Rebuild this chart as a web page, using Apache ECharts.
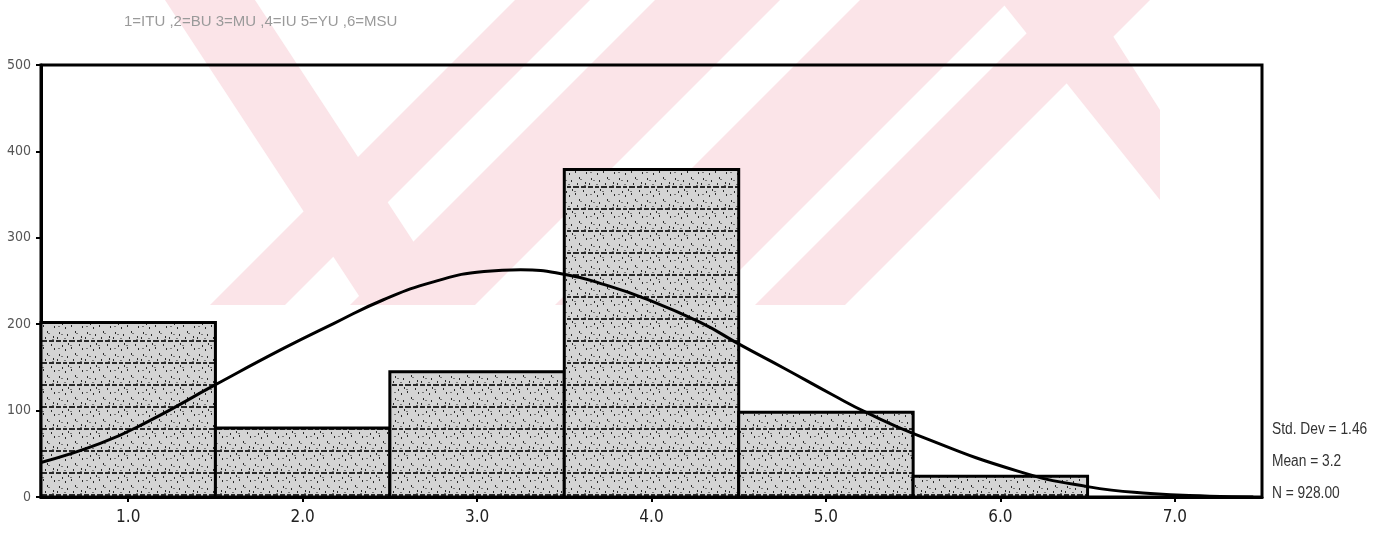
<!DOCTYPE html>
<html>
<head>
<meta charset="utf-8">
<script src="https://cdn.jsdelivr.net/npm/echarts@6/dist/echarts.min.js"></script>
<style>
html,body{margin:0;padding:0;background:#fff;}
#chart{width:1391px;height:540px;}
</style>
</head>
<body>
<div id="chart"></div>
<script>
// ---- data ----
const titleText = '1=ITU ,2=BU 3=MU ,4=IU 5=YU ,6=MSU';
const binCenters = [1, 2, 3, 4, 5, 6, 7];
const binWidth = 1;
const counts = [202, 80, 145, 379, 98, 24, 0];
const xTickValues = [1, 2, 3, 4, 5, 6, 7];
const xTickLabels = ['1.0', '2.0', '3.0', '4.0', '5.0', '6.0', '7.0'];
const yTickLabels = ['0', '100', '200', '300', '400', '500'];
const curveX = [0.5, 0.84, 1.11, 1.5, 1.89, 2.18, 2.46, 2.75, 3.04, 3.25, 3.52, 3.71, 3.96, 4.28, 4.51, 4.76, 5.04, 5.24, 5.52, 6.1, 6.5, 6.86, 7.2, 7.45];
const curveY = [40, 62, 87, 130, 172, 201, 228, 249, 261, 263, 257, 247, 230, 202, 176, 149, 118, 97, 72, 30, 12, 4, 1, 0];
const statsLines = ['Std. Dev = 1.46', 'Mean = 3.2', 'N = 928.00'];

// ---- build ----
const barData = binCenters.map((c, i) => [c - binWidth / 2, c + binWidth / 2, counts[i]]);
const curveData = curveX.map((x, i) => [x, curveY[i]]);

// hatch texture for bars (fixed, deterministic)
const tex = document.createElement('canvas');
tex.width = 28; tex.height = 22;
(function () {
  const g = tex.getContext('2d');
  g.fillStyle = '#d4d4d4'; g.fillRect(0, 0, 28, 22);
  g.fillStyle = '#2a2a2a';
  [[0, 5], [7, 4], [13, 6], [21, 5]].forEach(d => g.fillRect(d[0], 10, d[1], 2));
  [[3, 2], [11, 4], [19, 1], [25, 6], [6, 15], [15, 17], [23, 14], [9, 19], [1, 7], [17, 7], [26, 18], [12, 13]].forEach(p => g.fillRect(p[0], p[1], 1, 2));
  g.fillStyle = '#777';
  [[5, 4], [20, 3], [14, 15], [2, 18], [24, 9], [8, 8]].forEach(p => g.fillRect(p[0], p[1], 2, 1));
})();

// watermark bands (decoration)
const pink = '#fbe4e8';
function slashBand(c1, c2, h) { return [[c1, 0], [c2, 0], [c2 - h, h], [c1 - h, h]]; }
const wm = [];
[[515, 590], [655, 780], [860, 1010], [1060, 1150]].forEach(b => {
  wm.push({ type: 'polygon', shape: { points: slashBand(b[0], b[1], 305) }, style: { fill: pink }, z: -10, silent: true });
});
wm.push({ type: 'polygon', shape: { points: [[165, 0], [255, 0], [455, 305], [365, 305]] }, style: { fill: pink }, z: -10, silent: true });
wm.push({ type: 'polygon', shape: { points: [[1000, 0], [1090, 0], [1160, 110], [1160, 200]] }, style: { fill: pink }, z: -10, silent: true });

const chart = echarts.init(document.getElementById('chart'), null, { renderer: 'canvas' });
const narrow = '"DejaVu Sans Condensed", "Liberation Sans Narrow", "Liberation Sans", Arial, sans-serif';
chart.setOption({
  animation: false,
  backgroundColor: '#fff',
  graphic: wm.concat([
    { type: 'text', left: 124, top: 14, style: { text: titleText, font: '15px "Liberation Sans", Arial, sans-serif', fill: '#9a9a9a' }, z: 10 },
    { type: 'text', x: 1272, y: 414, scaleX: 0.86, style: { text: statsLines.join('\n'), font: '16px "Liberation Sans", Arial, sans-serif', fill: '#333', lineHeight: 32 }, z: 10 }
  ]),
  grid: { left: 41, right: 129, top: 65, bottom: 43, show: true, borderColor: '#000', borderWidth: 3, backgroundColor: 'transparent' },
  xAxis: {
    type: 'value', min: 0.5, max: 7.5,
    axisLine: { show: true, lineStyle: { color: '#000', width: 3 } },
    axisTick: { show: true, customValues: xTickValues, length: 5, lineStyle: { color: '#000', width: 2 } },
    axisLabel: { customValues: xTickValues, formatter: v => xTickLabels[xTickValues.indexOf(v)] || '', color: '#222', fontSize: 17, fontFamily: narrow, margin: 12 },
    splitLine: { show: false }
  },
  yAxis: {
    type: 'value', min: 0, max: 500, interval: 100,
    axisLine: { show: true, lineStyle: { color: '#000', width: 3 } },
    axisTick: { show: true, length: 5, lineStyle: { color: '#000', width: 2 } },
    axisLabel: { formatter: v => yTickLabels[Math.round(v / 100)], color: '#555', fontSize: 14, fontFamily: narrow, margin: 10 },
    splitLine: { show: false }
  },
  series: [
    {
      type: 'custom',
      data: barData,
      encode: { x: [0, 1], y: 2 },
      renderItem: function (params, api) {
        if (api.value(2) <= 0) return null;
        const p0 = api.coord([api.value(0), api.value(2)]);
        const p1 = api.coord([api.value(1), 0]);
        return {
          type: 'rect',
          shape: { x: p0[0], y: p0[1], width: p1[0] - p0[0], height: p1[1] - p0[1] },
          style: { fill: { image: tex, repeat: 'repeat' }, stroke: '#000', lineWidth: 3 }
        };
      },
      z: 2
    },
    {
      type: 'line',
      data: curveData,
      smooth: 0.5,
      symbol: 'none',
      lineStyle: { color: '#000', width: 3 },
      z: 5
    }
  ]
});
</script>
</body>
</html>
